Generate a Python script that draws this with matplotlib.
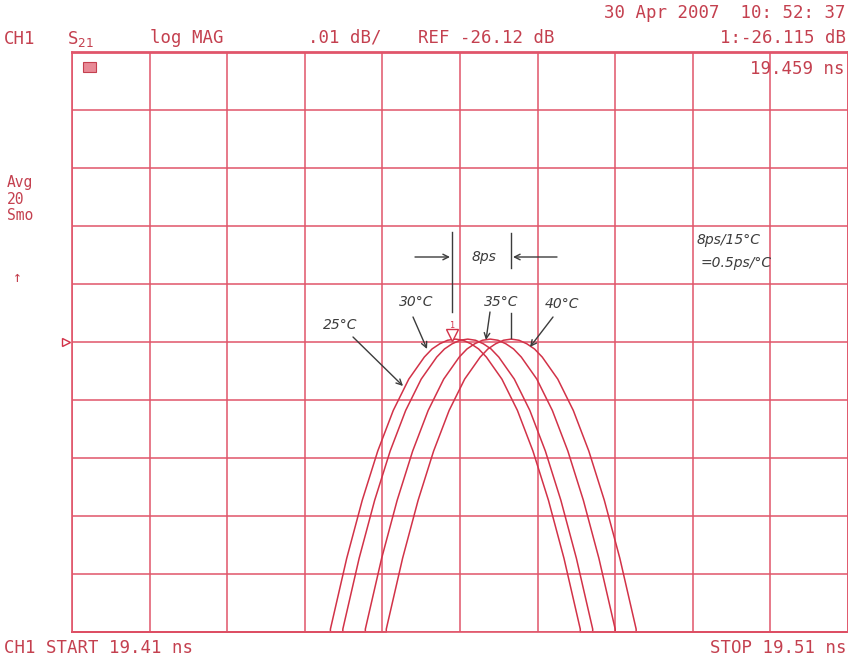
import matplotlib
matplotlib.use("Agg")
import matplotlib.pyplot as plt
from matplotlib.patches import Rectangle

# network analyzer sweep: S21 log MAG vs delay (ns), four temperatures
start_ns = 19.41
stop_ns = 19.51
top_db = -26.07
bottom_db = -26.17
ref_db = -26.12

temps = ["25°C", "30°C", "35°C", "40°C"]

# trace in dB, left floor -> peak -> right floor
trace_db = [-26.170, -26.170, -26.1695, -26.1573, -26.1473, -26.1388, -26.1318,
            -26.1264, -26.1226, -26.1212, -26.1203, -26.1197, -26.1195,
            -26.1197, -26.1203, -26.1212, -26.1226, -26.1264, -26.1318,
            -26.1388, -26.1473, -26.1573, -26.1695, -26.170, -26.170]

t25_ns = [19.41, 19.4433, 19.4433, 19.4454, 19.4474, 19.4494, 19.4514, 19.4534,
          19.4554, 19.4564, 19.4574, 19.4584, 19.4594, 19.4604, 19.4614, 19.4624,
          19.4634, 19.4654, 19.4674, 19.4694, 19.4714, 19.4734, 19.4755, 19.4755, 19.51]
t30_ns = [19.41, 19.4449, 19.4449, 19.4470, 19.4490, 19.4510, 19.4530, 19.4550,
          19.4570, 19.4580, 19.4590, 19.4600, 19.4610, 19.4620, 19.4630, 19.4640,
          19.4650, 19.4670, 19.4690, 19.4710, 19.4730, 19.4750, 19.4771, 19.4771, 19.51]
t35_ns = [19.41, 19.4478, 19.4478, 19.4499, 19.4519, 19.4539, 19.4559, 19.4579,
          19.4599, 19.4609, 19.4619, 19.4629, 19.4639, 19.4649, 19.4659, 19.4669,
          19.4679, 19.4699, 19.4719, 19.4739, 19.4759, 19.4779, 19.4800, 19.4800, 19.51]
t40_ns = [19.41, 19.4505, 19.4505, 19.4526, 19.4546, 19.4566, 19.4586, 19.4606,
          19.4626, 19.4636, 19.4646, 19.4656, 19.4666, 19.4676, 19.4686, 19.4696,
          19.4706, 19.4726, 19.4746, 19.4766, 19.4786, 19.4806, 19.4827, 19.4827, 19.51]

marker_ns = 19.459
x_ticks = [19.41, 19.42, 19.43, 19.44, 19.45, 19.46, 19.47, 19.48, 19.49, 19.50, 19.51]
y_ticks = [-26.17, -26.16, -26.15, -26.14, -26.13, -26.12, -26.11, -26.10, -26.09, -26.08, -26.07]

W, H = 848, 660
GRID = "#e0556a"
TRACE = "#d23248"
TXT = "#c4404f"
PEN = "#3c3c3c"
MONO = "DejaVu Sans Mono"


def fp(x, y):
    # pixel (from top-left) -> figure fraction
    return x / W, 1 - y / H


fig = plt.figure(figsize=(W / 100, H / 100), dpi=100)
fig.patch.set_facecolor("white")
ax = fig.add_axes([72 / W, 28 / H, 776 / W, 580 / H])
ax.set_xlim(start_ns, stop_ns)
ax.set_ylim(bottom_db, top_db)
ax.set_xticks(x_ticks)
ax.set_yticks(y_ticks)
ax.tick_params(length=0, labelbottom=False, labelleft=False)
ax.grid(True, color=GRID, linewidth=1.1)
for s in ax.spines.values():
    s.set_color(GRID)
    s.set_linewidth(1.2)
ax.spines["top"].set_linewidth(2.0)

for xs in (t25_ns, t30_ns, t35_ns, t40_ns):
    ax.plot(xs, trace_db, color=TRACE, linewidth=1.1, clip_on=False)

# marker 1 and reference marker
ax.plot([marker_ns], [ref_db + 0.0012], marker="v", markersize=9,
        markerfacecolor="white", markeredgecolor=TRACE, markeredgewidth=1.0, clip_on=False)
ax.text(marker_ns, ref_db + 0.0029, "1", color=TRACE, fontsize=6, ha="center", va="center",
        family=MONO)
ax.plot([start_ns - 0.0008], [ref_db], marker=">", markersize=6,
        markerfacecolor="white", markeredgecolor=TRACE, markeredgewidth=1.0, clip_on=False)


# instrument text
def itext(x, y, s, ha="left", size=12.5):
    fig.text(*fp(x, y), s, color=TXT, fontsize=size, family=MONO, ha=ha, va="center")


itext(846, 13, "30 Apr 2007  10: 52: 37", ha="right")
itext(4, 39, "CH1")
itext(67, 39, "S$_{21}$")
itext(150, 38, "log MAG")
itext(308, 38, ".01 dB/")
itext(418, 38, "REF -26.12 dB")
itext(846, 38, "1:-26.115 dB", ha="right")
itext(845, 69, "19.459 ns", ha="right")
itext(7, 182, "Avg", size=10.5)
itext(7, 199, "20", size=10.5)
itext(7, 216, "Smo", size=10.5)
itext(13, 277, "↑", size=10.5)
itext(4, 648, "CH1 START 19.41 ns")
itext(846, 648, "STOP 19.51 ns", ha="right")
fig.patches.append(Rectangle(fp(83, 72), 13 / W, 10 / H, transform=fig.transFigure,
                             facecolor="#e88a96", edgecolor=TXT, linewidth=0.8))


# handwritten notes
def pen(x, y, s, size=10, ha="center"):
    fig.text(*fp(x, y), s, color=PEN, fontsize=size, ha=ha, va="center", style="italic")


def arrow(x0, y0, x1, y1):
    ax.annotate("", xy=fp(x1, y1), xytext=fp(x0, y0), xycoords="figure fraction",
                textcoords="figure fraction",
                arrowprops=dict(arrowstyle="->", color=PEN, lw=1.0, shrinkA=0, shrinkB=0))


def line(x0, y0, x1, y1):
    fig.add_artist(plt.Line2D([x0 / W, x1 / W], [1 - y0 / H, 1 - y1 / H],
                              color=PEN, linewidth=1.0, transform=fig.transFigure))


line(452, 232, 452, 312)
line(511, 233, 511, 268)
line(511, 313, 511, 338)
arrow(415, 257, 450, 257)
arrow(557, 257, 513, 257)
pen(484, 257, "8ps")

pen(340, 325, temps[0])
arrow(353, 337, 403, 386)
pen(416, 302, temps[1])
arrow(413, 317, 427, 349)
pen(501, 302, temps[2])
arrow(490, 312, 486, 340)
pen(562, 304, temps[3])
arrow(553, 317, 530, 347)

pen(697, 240, "8ps/15°C", ha="left")
pen(701, 263, "=0.5ps/°C", ha="left")

fig.savefig("out.png", dpi=100)
